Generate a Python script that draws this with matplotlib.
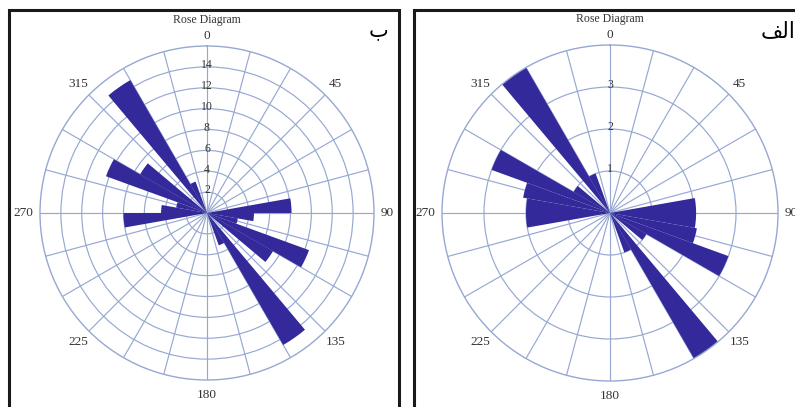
import numpy as np
import matplotlib.pyplot as plt
from matplotlib.patches import Rectangle

# 10 degree bins, clockwise from north
bin_start = np.arange(0, 360, 10)

# panel "ب" (left)
left_vals = [0, 0, 0, 0, 0, 0, 0, 0, 8.1, 4.5, 3.0, 10.4, 7.3, 0, 14.6, 3.3, 0, 0,
             0, 0, 0, 0, 0, 0, 0, 0, 8.0, 4.4, 3.0, 10.3, 7.4, 0, 14.7, 3.2, 0, 0]
left_rings = [2, 4, 6, 8, 10, 12, 14]
left_rmax = 16

# panel "الف" (right)
right_vals = [0, 0, 0, 0, 0, 0, 0, 0, 2.05, 2.05, 2.1, 3.0, 1.0, 0, 4.0, 1.0, 0, 0,
              0, 0, 0, 0, 0, 0, 0, 0, 2.0, 2.0, 2.1, 3.0, 1.0, 0, 4.0, 1.0, 0, 0]
right_rings = [1, 2, 3]
right_rmax = 4

angle_ticks = [0, 45, 90, 135, 180, 225, 270, 315]
angle_labels = ['0', '45', '90', '135', '180', '225', '270', '315']
# how far out each angle label sits, as a fraction of the outer ring
label_dist = [1.06, 1.09, 1.08, 1.09, 1.09, 1.09, 1.10, 1.09]

W, H = 795, 407
bar_color = '#33299b'
grid_color = '#96a8d2'
text_color = '#333333'

plt.rcParams['font.family'] = ['Liberation Serif', 'DejaVu Serif']

fig = plt.figure(figsize=(W / 100, H / 100), dpi=100)


def rose(cx, cy, rad, vals, rings, rmax, title_y):
    ax = fig.add_axes([(cx - rad) / W, (H - cy - rad) / H, 2 * rad / W, 2 * rad / H],
                      projection='polar')
    ax.set_theta_zero_location('N')
    ax.set_theta_direction(-1)
    ax.bar(np.deg2rad(bin_start), vals, width=np.deg2rad(10), align='edge',
           color=bar_color, edgecolor='none', zorder=2)
    ax.set_axisbelow(True)
    ax.set_ylim(0, rmax)
    ax.set_yticks(rings)
    ax.set_yticklabels([])
    ax.set_xticks(np.deg2rad(np.arange(0, 360, 15)))
    ax.set_xticklabels([])
    ax.grid(True, color=grid_color, lw=0.85)
    ax.spines['polar'].set_color(grid_color)
    ax.spines['polar'].set_linewidth(1.0)
    for r in rings:
        ax.text(0, r + rmax * 0.01, str(r), ha='center', va='center',
                fontsize=8.5, color=text_color, zorder=3)
    for t, lab, d in zip(angle_ticks, angle_labels, label_dist):
        ax.text(np.deg2rad(t), rmax * d, lab, ha='center', va='center',
                fontsize=9.5, color=text_color)
    fig.text(cx / W, 1 - title_y / H, 'Rose Diagram', ha='center', va='center',
             fontsize=8.5, color=text_color)
    return ax


rose(207, 213, 167, left_vals, left_rings, left_rmax, 20.5)
rose(610, 213, 168, right_vals, right_rings, right_rmax, 19)

# panel frames
fig.add_artist(Rectangle((9 / W, -0.05), 390 / W, (H - 10) / H + 0.05,
                         transform=fig.transFigure, fill=False, lw=2.2, ec='#1a1a1a'))
fig.add_artist(Rectangle((414 / W, -0.05), 400 / W, (H - 10) / H + 0.05,
                         transform=fig.transFigure, fill=False, lw=2.2, ec='#1a1a1a'))

# panel letters (Arabic presentation forms, since matplotlib does not shape Arabic)
fig.text(378 / W, 1 - 30 / H, '\uFE8F', ha='center', va='center', fontsize=15,
         family='DejaVu Sans', color='black')
fig.text(795 / W, 1 - 31 / H, '\uFED2\uFEDF\uFE8D', ha='right', va='center', fontsize=15.5,
         family='DejaVu Sans', color='black')

fig.savefig('out.png', dpi=100)
